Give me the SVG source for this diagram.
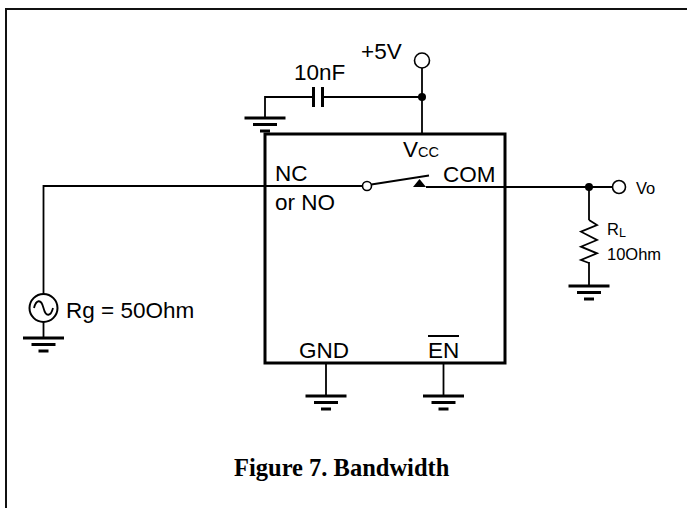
<svg xmlns="http://www.w3.org/2000/svg" width="687" height="508" viewBox="0 0 687 508">
<style>
.w{stroke:#000;stroke-width:1.8;fill:none}
.b{stroke:#000;stroke-width:3;fill:none}
.g{stroke:#000;stroke-width:3}
.t{font-family:"Liberation Sans",Arial,sans-serif;fill:#000;font-size:22.5px}
.s{font-family:"Liberation Sans",Arial,sans-serif;fill:#000;font-size:16.5px}
.o{fill:#fff;stroke:#000;stroke-width:1.6}
</style>
<defs>
<g id="gnd">
<line class="g" x1="-20.5" y1="0" x2="20.5" y2="0"/>
<line class="g" x1="-12" y1="6.5" x2="12" y2="6.5"/>
<line class="g" x1="-5" y1="13" x2="5" y2="13"/>
</g>
</defs>
<rect x="6" y="9" width="690" height="510" fill="none" stroke="#111" stroke-width="2"/>
<g id="connectors">
<line class="w" x1="422" y1="68" x2="422" y2="134"/>
<line class="w" x1="265" y1="97" x2="313" y2="97"/>
<line class="w" x1="323" y1="97" x2="422" y2="97"/>
<line class="w" x1="265" y1="96" x2="265" y2="118"/>
<line class="w" x1="43.5" y1="186" x2="362.5" y2="186"/>
<line class="w" x1="43.5" y1="185" x2="43.5" y2="294"/>
<line class="w" x1="43.5" y1="322" x2="43.5" y2="338"/>
<line class="w" x1="426" y1="187" x2="612.5" y2="187"/>
<line class="w" x1="589" y1="187" x2="589" y2="220"/>
<line class="w" x1="589" y1="262" x2="589" y2="286"/>
<line class="w" x1="326" y1="363" x2="326" y2="396"/>
<line class="w" x1="443.5" y1="363" x2="443.5" y2="396"/>
</g>
<g id="chip">
<rect class="b" x="265" y="134" width="240" height="229"/>
<text class="t" x="403" y="157">V<tspan font-size="14.5">CC</tspan></text>
<text class="t" x="275" y="181">NC</text>
<text class="t" x="275" y="210">or NO</text>
<text class="t" x="443" y="182">COM</text>
<text class="t" x="299" y="358">GND</text>
<text class="t" x="428" y="358">EN</text>
<line x1="428" y1="336" x2="459" y2="336" stroke="#000" stroke-width="2"/>
</g>
<g id="switch">
<circle class="o" cx="367" cy="186" r="4.5"/>
<line class="w" x1="371.3" y1="184.5" x2="429" y2="175.5" stroke-width="1.5"/>
<polygon points="419.5,179 413,187 426,187" fill="#000"/>
</g>
<g id="vcc-supply">
<circle class="o" cx="422" cy="60.5" r="7.5"/>
<circle cx="422" cy="97" r="4" fill="#000"/>
<text class="t" x="361" y="59">+5V</text>
</g>
<g id="capacitor">
<line class="g" x1="313.5" y1="87" x2="313.5" y2="107"/>
<line class="g" x1="322.5" y1="87" x2="322.5" y2="107"/>
<text class="t" x="294" y="80">10nF</text>
</g>
<g id="cap-ground"><use href="#gnd" x="265" y="118"/></g>
<g id="source">
<circle cx="43.5" cy="308" r="14" fill="#fff" stroke="#000" stroke-width="2"/>
<path class="w" d="M34,308 C36,300 41,298 43.5,308 C46,318 51,316 53,308"/>
<text class="t" x="66" y="318">Rg = 50Ohm</text>
</g>
<g id="source-ground"><use href="#gnd" x="43.5" y="338"/></g>
<g id="gnd-ground"><use href="#gnd" x="326" y="396"/></g>
<g id="en-ground"><use href="#gnd" x="443.5" y="396"/></g>
<g id="output">
<circle cx="589" cy="187" r="4" fill="#000"/>
<circle class="o" cx="619" cy="187" r="6.5"/>
<text class="s" x="636" y="194">Vo</text>
</g>
<g id="load-resistor">
<polyline class="w" stroke-width="1.5" points="589,220 597,225 581,231.7 597,240 581,246.7 597,253.3 581,260 589,263"/>
<text class="s" x="607" y="235">R<tspan font-size="12.5" dy="2">L</tspan></text>
<text class="s" x="607" y="260">10Ohm</text>
</g>
<g id="load-ground"><use href="#gnd" x="589" y="286"/></g>
<g id="caption">
<text x="234" y="476" font-family="'Liberation Serif','Times New Roman',serif" font-weight="bold" font-size="24.5">Figure 7. Bandwidth</text>
</g>
</svg>
